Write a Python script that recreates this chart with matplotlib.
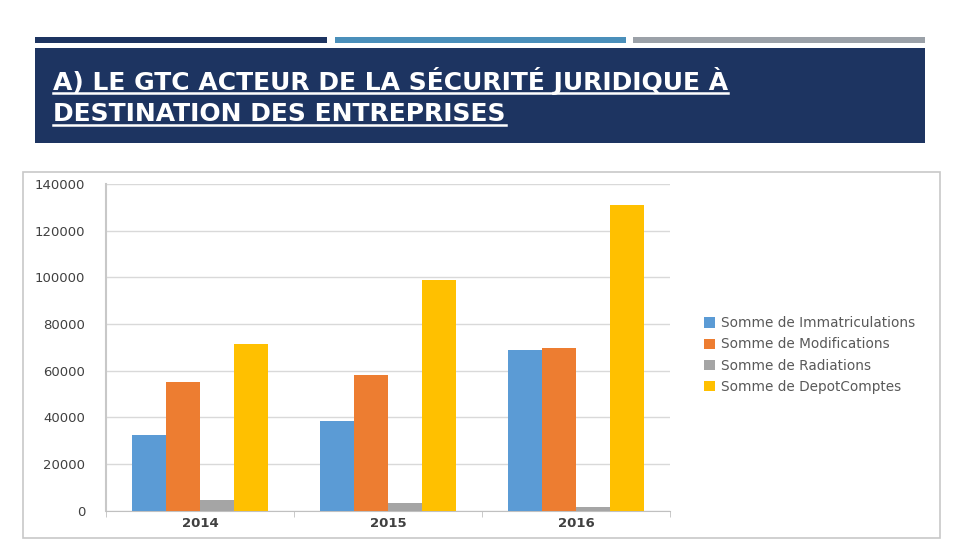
import numpy as np
import matplotlib
matplotlib.use("Agg")
import matplotlib.pyplot as plt
from matplotlib.patches import Rectangle
from matplotlib.lines import Line2D

# data
years = ["2014", "2015", "2016"]
series_names = [
    "Somme de Immatriculations",
    "Somme de Modifications",
    "Somme de Radiations",
    "Somme de DepotComptes",
]
immatriculations = [32200, 38300, 68800]
modifications = [55300, 58000, 69700]
radiations = [4300, 3400, 1500]
depot_comptes = [71400, 98800, 130800]
y_ticks = [0, 20000, 40000, 60000, 80000, 100000, 120000, 140000]

title_lines = [
    "A) LE GTC ACTEUR DE LA SÉCURITÉ JURIDIQUE À",
    "DESTINATION DES ENTREPRISES",
]

colors = ["#5b9bd5", "#ed7d31", "#a5a5a5", "#ffc000"]
NAVY = "#1d3461"

W, H = 960, 540


def fx(px):
    return px / W


def fy(py):
    # pixel row (from top) -> figure fraction
    return 1 - py / H


fig = plt.figure(figsize=(W / 100, H / 100), dpi=100)
fig.patch.set_facecolor("white")

# three thin bars on top of the slide
for x0, x1, c in [(35, 327, NAVY), (335, 626, "#4a8fba"), (633, 925, "#9ba1a8")]:
    fig.add_artist(Rectangle((fx(x0), fy(43)), fx(x1 - x0), 6 / H,
                             transform=fig.transFigure, color=c, lw=0, zorder=-2))

# header box
fig.add_artist(Rectangle((fx(35), fy(143)), fx(925 - 35), 95 / H,
                         transform=fig.transFigure, color=NAVY, lw=0, zorder=-2))

# title text (underlined)
title_texts = []
for i, line in enumerate(title_lines):
    t = fig.text(fx(53), fy(90 + 31 * i), line, color="white",
                 fontsize=18, fontweight="bold", family="DejaVu Sans",
                 va="baseline", ha="left")
    title_texts.append(t)

# chart image frame
fig.add_artist(Rectangle((fx(23), fy(538)), fx(940 - 23), 366 / H,
                         transform=fig.transFigure, facecolor="white",
                         edgecolor="#c8c8c8", lw=1.2, zorder=-1))

# plot area
ax = fig.add_axes([fx(106), fy(510.5), fx(670 - 106), (510.5 - 184) / H])
ax.set_facecolor("white")

x = np.arange(len(years))
width = 0.18
all_series = [immatriculations, modifications, radiations, depot_comptes]
for k, (vals, name, c) in enumerate(zip(all_series, series_names, colors)):
    ax.bar(x + (k - 1.5) * width, vals, width, color=c, label=name, lw=0, zorder=3)

ax.set_xlim(-0.5, 2.5)
ax.set_ylim(0, 140000)
ax.set_yticks(y_ticks)
ax.set_yticklabels([str(v) for v in y_ticks], fontsize=9.5, color="#404040")
ax.tick_params(axis="y", length=0, pad=15)
ax.grid(axis="y", color="#d9d9d9", lw=1, zorder=0)

ax.set_xticks(x)
ax.set_xticklabels(years, fontsize=9.5, fontweight="bold", color="#404040")
ax.tick_params(axis="x", length=0, pad=5)
ax.set_xticks([-0.5, 0.5, 1.5, 2.5], minor=True)
ax.tick_params(axis="x", which="minor", length=4, color="#c0c0c0")

for s in ["top", "right"]:
    ax.spines[s].set_visible(False)
ax.spines["left"].set_color("#c8c8c8")
ax.spines["left"].set_linewidth(1.5)
ax.spines["bottom"].set_color("#c0c0c0")

ax.legend(loc="center left", bbox_to_anchor=(fx(692), fy(355)),
          bbox_transform=fig.transFigure, frameon=False, fontsize=9.8,
          labelcolor="#595959", handlelength=0.8, handleheight=0.8,
          handletextpad=0.45, labelspacing=0.52)

# underline the title lines
fig.canvas.draw()
renderer = fig.canvas.get_renderer()
for i, t in enumerate(title_texts):
    bb = t.get_window_extent(renderer)
    yline = fy(93 + 32 * i)
    fig.add_artist(Line2D([bb.x0 / W, bb.x1 / W], [yline, yline],
                          transform=fig.transFigure, color="white", lw=1.8))

fig.savefig("out.png", dpi=100)
